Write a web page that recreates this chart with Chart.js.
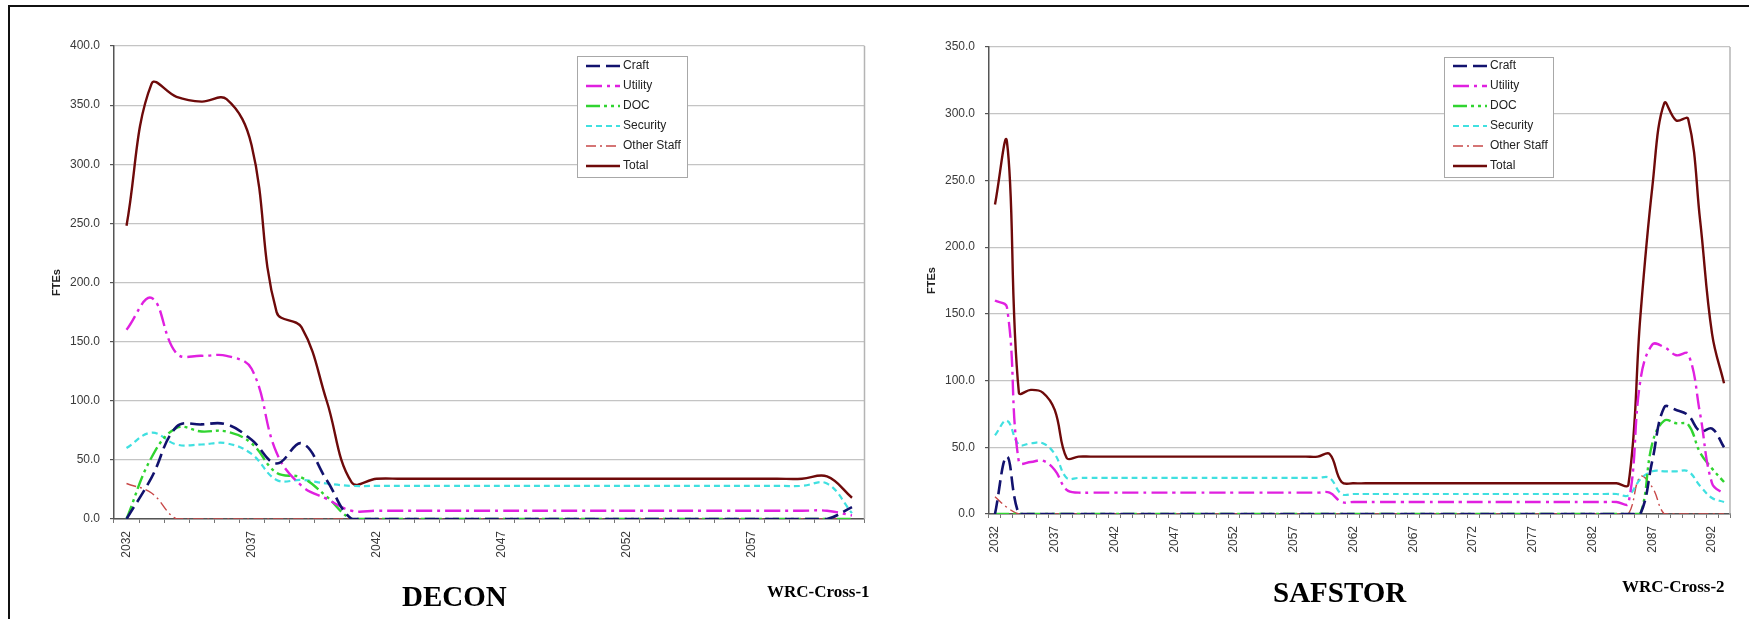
<!DOCTYPE html>
<html>
<head>
<meta charset="utf-8">
<title>DECON / SAFSTOR staffing FTEs</title>
<script src="https://cdn.jsdelivr.net/npm/chart.js@4.4.1/dist/chart.umd.min.js"></script>
<style>
    html, body { margin: 0; padding: 0; background: #fff; }
    body { width: 1749px; height: 619px; position: relative; overflow: hidden; }
    .panel { position: absolute; top: 0; height: 619px; }
    #frame {
        position: absolute; left: 8px; top: 5px; width: 1800px; height: 700px;
        border-top: 2px solid #111; border-left: 2px solid #111; pointer-events: none;
    }
</style>
</head>
<body>
<div class="panel" style="left:0;width:875px"><canvas id="deconChart"></canvas></div>
<div class="panel" style="left:875px;width:874px"><canvas id="safstorChart"></canvas></div>
<div id="frame"></div>
<script>
// Series names (legend order)
const SERIES = ['Craft', 'Utility', 'DOC', 'Security', 'Other Staff', 'Total'];

// DECON: 2032 - 2061
const decYears = Array.from({ length: 30 }, (_, i) => String(2032 + i));
const decCraft = [0, 35, 78, 80, 80, 67, 47, 64, 33, 0,
    0, 0, 0, 0, 0, 0, 0, 0, 0, 0,
    0, 0, 0, 0, 0, 0, 0, 0, 0, 10];
const decUtility = [160, 187, 140, 138, 138, 127, 56, 28, 17, 7,
    7, 7, 7, 7, 7, 7, 7, 7, 7, 7,
    7, 7, 7, 7, 7, 7, 7, 7, 7, 3];
const decDoc = [0, 52, 77, 74, 74, 64, 39, 35, 19, 0,
    0, 0, 0, 0, 0, 0, 0, 0, 0, 0,
    0, 0, 0, 0, 0, 0, 0, 0, 0, 0];
const decSecurity = [60, 73, 63, 63, 64, 55, 33, 33, 30, 28,
    28, 28, 28, 28, 28, 28, 28, 28, 28, 28,
    28, 28, 28, 28, 28, 28, 28, 28, 30, 5];
const decOther = [30, 22, 0, 0, 0, 0, 0, 0, 0, 0,
    0, 0, 0, 0, 0, 0, 0, 0, 0, 0,
    0, 0, 0, 0, 0, 0, 0, 0, 0, 0];
const decTotal = [248, 368, 357, 353, 355, 316, 175, 162, 100, 31,
    34, 34, 34, 34, 34, 34, 34, 34, 34, 34,
    34, 34, 34, 34, 34, 34, 34, 34, 36, 18];

// SAFSTOR: 2032 - 2093
const safYears = Array.from({ length: 62 }, (_, i) => String(2032 + i));
const safCraft = [0, 43, 0, 0, 0, 0, 0, 0, 0, 0,
    0, 0, 0, 0, 0, 0, 0, 0, 0, 0,
    0, 0, 0, 0, 0, 0, 0, 0, 0, 0,
    0, 0, 0, 0, 0, 0, 0, 0, 0, 0,
    0, 0, 0, 0, 0, 0, 0, 0, 0, 0,
    0, 0, 0, 0, 0, 40, 80, 78, 74, 62,
    64, 50];
const safUtility = [160, 155, 39, 39, 40, 33, 18, 16, 16, 16,
    16, 16, 16, 16, 16, 16, 16, 16, 16, 16,
    16, 16, 16, 16, 16, 16, 16, 16, 16, 9,
    9, 9, 9, 9, 9, 9, 9, 9, 9, 9,
    9, 9, 9, 9, 9, 9, 9, 9, 9, 9,
    9, 9, 9, 8, 100, 127, 125, 119, 120, 75,
    23, 15];
const safDoc = [0, 0, 0, 0, 0, 0, 0, 0, 0, 0,
    0, 0, 0, 0, 0, 0, 0, 0, 0, 0,
    0, 0, 0, 0, 0, 0, 0, 0, 0, 0,
    0, 0, 0, 0, 0, 0, 0, 0, 0, 0,
    0, 0, 0, 0, 0, 0, 0, 0, 0, 0,
    0, 0, 0, 0, 0, 53, 70, 68, 67, 46,
    34, 24];
const safSecurity = [59, 70, 52, 53, 53, 45, 27, 27, 27, 27,
    27, 27, 27, 27, 27, 27, 27, 27, 27, 27,
    27, 27, 27, 27, 27, 27, 27, 27, 27, 15,
    15, 15, 15, 15, 15, 15, 15, 15, 15, 15,
    15, 15, 15, 15, 15, 15, 15, 15, 15, 15,
    15, 15, 15, 14, 26, 32, 32, 32, 32, 21,
    12, 9];
const safOther = [13, 5, 0, 0, 0, 0, 0, 0, 0, 0,
    0, 0, 0, 0, 0, 0, 0, 0, 0, 0,
    0, 0, 0, 0, 0, 0, 0, 0, 0, 0,
    0, 0, 0, 0, 0, 0, 0, 0, 0, 0,
    0, 0, 0, 0, 0, 0, 0, 0, 0, 0,
    0, 0, 0, 0, 28, 20, 0, 0, 0, 0,
    0, 0];
const safTotal = [232, 279, 91, 93, 91, 78, 42, 43, 43, 43,
    43, 43, 43, 43, 43, 43, 43, 43, 43, 43,
    43, 43, 43, 43, 43, 43, 43, 43, 45, 24,
    23, 23, 23, 23, 23, 23, 23, 23, 23, 23,
    23, 23, 23, 23, 23, 23, 23, 23, 23, 23,
    23, 23, 23, 22, 148, 245, 308, 295, 296, 220,
    135, 98];

// Line look for each series
const LINE_STYLES = [
    { color: '#12126e', width: 2.6, dash: [14, 6] },
    { color: '#e020e0', width: 2.4, dash: [16, 5, 3, 5] },
    { color: '#30d430', width: 2.4, dash: [14, 4, 3, 4, 3, 4] },
    { color: '#40e0e0', width: 2.2, dash: [6, 4] },
    { color: '#c84848', width: 1.4, dash: [10, 4, 2, 4] },
    { color: '#6e0a0a', width: 2.4, dash: [] }
];

const TICK_FONT = { family: '"Liberation Sans", Arial, sans-serif', size: 12 };
const SERIF = '"Liberation Serif", "Times New Roman", serif';

function makeDatasets(seriesValues) {
    return seriesValues.map((data, i) => ({
        label: SERIES[i],
        data: data,
        borderColor: LINE_STYLES[i].color,
        borderWidth: LINE_STYLES[i].width,
        borderDash: LINE_STYLES[i].dash,
        pointRadius: 0,
        tension: 0.4,
        fill: false
    }));
}

// Plot border, in-plot legend box and captions under each panel
const panelDecor = {
    id: 'panelDecor',
    beforeDatasetsDraw(chart) {
        const a = chart.chartArea;
        const ctx = chart.ctx;
        ctx.save();
        ctx.strokeStyle = '#b4b4b4';
        ctx.lineWidth = 1.5;
        ctx.beginPath();
        ctx.moveTo(a.right, a.top);
        ctx.lineTo(a.right, a.bottom);
        ctx.stroke();
        ctx.restore();
    },
    afterDraw(chart, args, opts) {
        const ctx = chart.ctx;
        const lg = opts.legend;
        ctx.save();
        ctx.fillStyle = '#fff';
        ctx.fillRect(lg.x, lg.y, lg.w, lg.h);
        ctx.strokeStyle = '#a8a8a8';
        ctx.lineWidth = 1;
        ctx.strokeRect(lg.x + 0.5, lg.y + 0.5, lg.w, lg.h);
        chart.data.datasets.forEach((ds, i) => {
            const y = lg.y + lg.first + i * lg.step;
            ctx.strokeStyle = ds.borderColor;
            ctx.lineWidth = ds.borderWidth;
            ctx.setLineDash(ds.borderDash);
            ctx.beginPath();
            ctx.moveTo(lg.x + lg.lineX, y);
            ctx.lineTo(lg.x + lg.lineX + lg.lineW, y);
            ctx.stroke();
            ctx.setLineDash([]);
            ctx.fillStyle = '#222';
            ctx.font = '12px "Liberation Sans", Arial, sans-serif';
            ctx.textBaseline = 'middle';
            ctx.fillText(ds.label, lg.x + lg.textX, y);
        });
        opts.captions.forEach(c => {
            ctx.font = c.font;
            ctx.fillStyle = '#000';
            ctx.textBaseline = 'alphabetic';
            ctx.fillText(c.text, c.x, c.y);
        });
        ctx.restore();
    }
};

function makeOptions(cfg) {
    return {
        responsive: true,
        maintainAspectRatio: false,
        animation: false,
        layout: { padding: { left: 46, top: cfg.top, right: cfg.right, bottom: 0 } },
        plugins: {
            legend: { display: false },
            tooltip: { enabled: false },
            panelDecor: { legend: cfg.legend, captions: cfg.captions }
        },
        scales: {
            x: {
                type: 'category',
                offset: true,
                afterFit: s => { s.height = cfg.xHeight; },
                grid: { drawOnChartArea: false, offset: true, tickLength: 4, color: '#777', lineWidth: 1 },
                border: { color: '#555', width: 1.5 },
                ticks: {
                    autoSkip: false,
                    minRotation: 90,
                    maxRotation: 90,
                    padding: 8,
                    color: '#3a3a3a',
                    font: TICK_FONT,
                    callback: function (value, index) {
                        return index % 5 === 0 ? this.getLabelForValue(value) : '';
                    }
                }
            },
            y: {
                min: 0,
                max: cfg.yMax,
                afterFit: s => { s.width = 68; },
                grid: { color: '#c4c4c4', lineWidth: 1.2, tickLength: 4, tickColor: '#555' },
                border: { color: '#555', width: 1.5 },
                ticks: {
                    stepSize: 50,
                    padding: 10,
                    color: '#3a3a3a',
                    font: TICK_FONT,
                    callback: v => v.toFixed(1)
                },
                title: {
                    display: true,
                    text: 'FTEs',
                    color: '#222',
                    padding: { top: 4, bottom: 4 },
                    font: { family: '"Liberation Sans", Arial, sans-serif', size: 11, weight: 'bold' }
                }
            }
        }
    };
}

new Chart(document.getElementById('deconChart'), {
    type: 'line',
    data: {
        labels: decYears,
        datasets: makeDatasets([decCraft, decUtility, decDoc, decSecurity, decOther, decTotal])
    },
    options: makeOptions({
        yMax: 400, top: 46, right: 10.5, xHeight: 100,
        legend: { x: 577, y: 56, w: 110, h: 121, first: 10, step: 20, lineX: 9, lineW: 34, textX: 46 },
        captions: [
            { text: 'DECON', x: 402, y: 606, font: 'bold 29px ' + SERIF },
            { text: 'WRC-Cross-1', x: 767, y: 597, font: 'bold 17px ' + SERIF }
        ]
    }),
    plugins: [panelDecor]
});

new Chart(document.getElementById('safstorChart'), {
    type: 'line',
    data: {
        labels: safYears,
        datasets: makeDatasets([safCraft, safUtility, safDoc, safSecurity, safOther, safTotal])
    },
    options: makeOptions({
        yMax: 350, top: 47, right: 19, xHeight: 105,
        legend: { x: 569, y: 57, w: 109, h: 120, first: 9, step: 20, lineX: 9, lineW: 34, textX: 46 },
        captions: [
            { text: 'SAFSTOR', x: 398, y: 602, font: 'bold 29px ' + SERIF },
            { text: 'WRC-Cross-2', x: 747, y: 592, font: 'bold 17px ' + SERIF }
        ]
    }),
    plugins: [panelDecor]
});
</script>
</body>
</html>
